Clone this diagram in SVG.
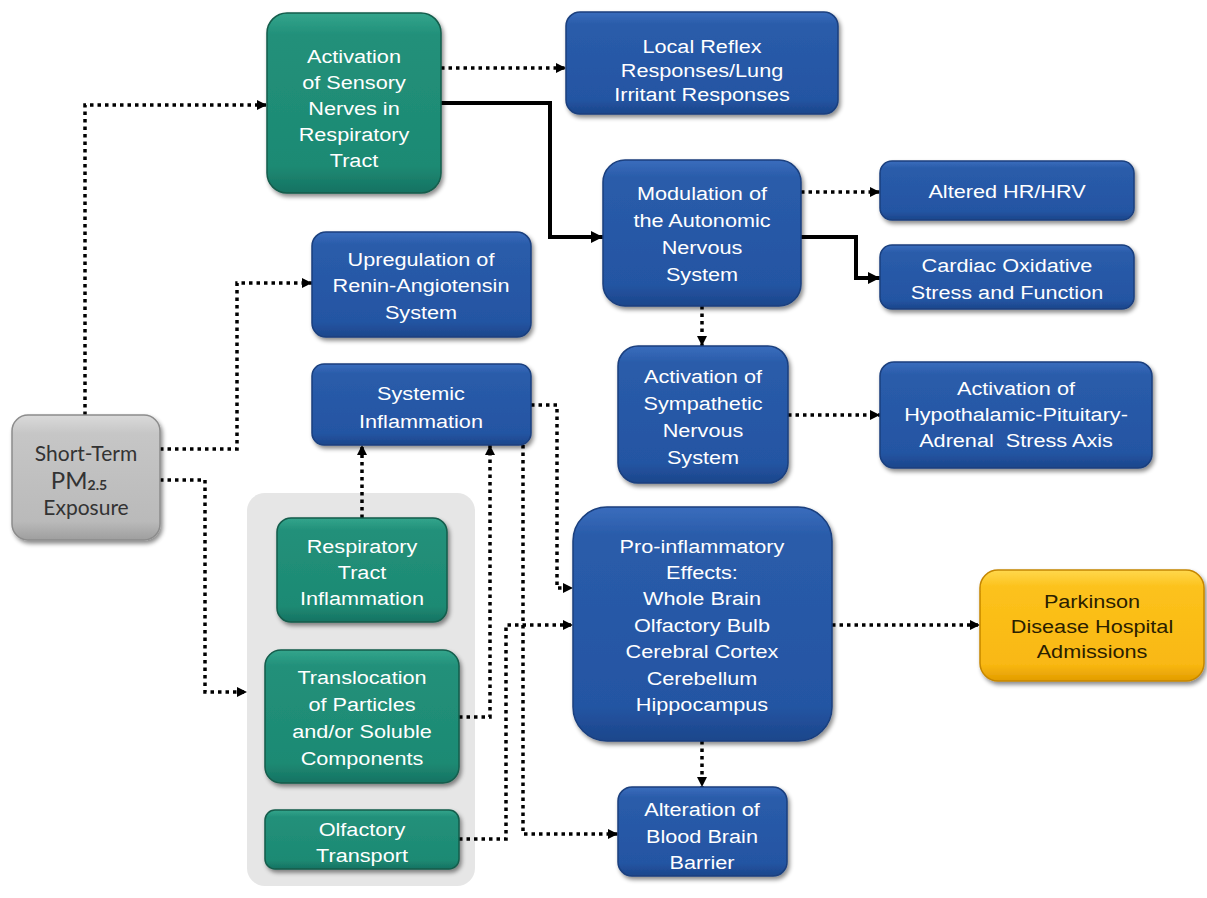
<svg xmlns="http://www.w3.org/2000/svg" width="1207" height="898" viewBox="0 0 1207 898">
<defs>
<linearGradient id="gBlue" x1="0" y1="0" x2="0" y2="1">
<stop offset="0" stop-color="#3a6dbd"/><stop offset="0.12" stop-color="#2a5caa"/><stop offset="0.85" stop-color="#2455a3"/><stop offset="1" stop-color="#1c468b"/>
</linearGradient>
<linearGradient id="gGreen" x1="0" y1="0" x2="0" y2="1">
<stop offset="0" stop-color="#33a58c"/><stop offset="0.12" stop-color="#22907a"/><stop offset="0.85" stop-color="#1d8a73"/><stop offset="1" stop-color="#167262"/>
</linearGradient>
<linearGradient id="gGray" x1="0" y1="0" x2="0" y2="1">
<stop offset="0" stop-color="#dadada"/><stop offset="0.15" stop-color="#c6c6c6"/><stop offset="0.85" stop-color="#bababa"/><stop offset="1" stop-color="#9e9e9e"/>
</linearGradient>
<linearGradient id="gYellow" x1="0" y1="0" x2="0" y2="1">
<stop offset="0" stop-color="#ffd84d"/><stop offset="0.15" stop-color="#fcc21c"/><stop offset="0.85" stop-color="#f9b812"/><stop offset="1" stop-color="#e29c00"/>
</linearGradient>
<filter id="sh" x="-10%" y="-10%" width="125%" height="130%">
<feDropShadow dx="2" dy="3" stdDeviation="2.2" flood-color="#000" flood-opacity="0.45"/>
</filter>
<marker id="ad" viewBox="0 0 10 10" refX="10" refY="5" markerWidth="11" markerHeight="10" markerUnits="userSpaceOnUse" orient="auto">
<path d="M0,0 L10,5 L0,10 z" fill="#000"/>
</marker>
<marker id="as" viewBox="0 0 10 10" refX="10" refY="5" markerWidth="13" markerHeight="12" markerUnits="userSpaceOnUse" orient="auto">
<path d="M0,0 L10,5 L0,10 z" fill="#000"/>
</marker>
<style>
.blue{fill:url(#gBlue);stroke:#1a3f7e;stroke-width:1.5;filter:url(#sh)}
.green{fill:url(#gGreen);stroke:#135c4b;stroke-width:1.5;filter:url(#sh)}
.gray{fill:url(#gGray);stroke:#8c8c8c;stroke-width:1.5;filter:url(#sh)}
.yellow{fill:url(#gYellow);stroke:#c58600;stroke-width:1.5;filter:url(#sh)}
.t{font-family:"Liberation Sans",Arial,sans-serif;font-size:19px;fill:#fff;text-anchor:middle}
.ty{font-family:"Liberation Sans",Arial,sans-serif;font-size:19px;fill:#2a2000;text-anchor:middle}
.tp{font-family:Lato,"Noto Sans",sans-serif;font-size:21px;fill:#333;text-anchor:middle}
.dot{fill:none;stroke:#000;stroke-width:3.5;stroke-dasharray:3.5 4;marker-end:url(#ad)}
.sol{fill:none;stroke:#000;stroke-width:4;marker-end:url(#as)}
</style>
</defs>

<rect id="group-bg" x="247" y="493" width="228" height="393" rx="18" fill="#e6e6e6"/>

<g id="connectors">
<path class="dot" d="M85,415 V105 H267"/>
<path class="dot" d="M160,449 H237 V283 H312"/>
<path class="dot" d="M160,480 H205 V692 H247"/>
<path class="dot" d="M441,68 H566"/>
<path class="sol" d="M441,103 H550 V237 H603"/>
<path class="dot" d="M801,192 H880"/>
<path class="sol" d="M801,237 H856 V278 H880"/>
<path class="dot" d="M702,306 V346"/>
<path class="dot" d="M788,415 H880"/>
<path class="dot" d="M362,518 V445"/>
<path class="dot" d="M459,717 H490 V445"/>
<path class="dot" d="M531,405 H557 V588 H573"/>
<path class="dot" d="M523,445 V834 H618"/>
<path class="dot" d="M459,839 H506 V625 H573"/>
<path class="dot" d="M832,625 H980"/>
<path class="dot" d="M702,741 V787"/>
</g>

<g id="n-pm">
<rect class="gray" x="12" y="415" width="148" height="125" rx="16"/>
<text class="tp"><tspan x="86" y="461">Short-Term</tspan><tspan x="79" y="489" font-size="24">PM</tspan><tspan font-size="14" font-weight="bold" dy="1">2.5</tspan><tspan x="86" y="515">Exposure</tspan></text>
</g>

<g id="n-sensory">
<rect class="green" x="267" y="13" width="174" height="180" rx="20"/>
<text class="t" transform="translate(354 0) scale(1.14 1)"><tspan x="0" y="63">Activation</tspan><tspan x="0" y="89">of Sensory</tspan><tspan x="0" y="115">Nerves in</tspan><tspan x="0" y="141">Respiratory</tspan><tspan x="0" y="167">Tract</tspan></text>
</g>

<g id="n-local">
<rect class="blue" x="566" y="12" width="272" height="102" rx="14"/>
<text class="t" transform="translate(702 0) scale(1.14 1)"><tspan x="0" y="53">Local Reflex</tspan><tspan x="0" y="77">Responses/Lung</tspan><tspan x="0" y="101">Irritant Responses</tspan></text>
</g>

<g id="n-modulation">
<rect class="blue" x="603" y="160" width="198" height="146" rx="22"/>
<text class="t" transform="translate(702 0) scale(1.14 1)"><tspan x="0" y="200">Modulation of</tspan><tspan x="0" y="227">the Autonomic</tspan><tspan x="0" y="254">Nervous</tspan><tspan x="0" y="281">System</tspan></text>
</g>

<g id="n-hr">
<rect class="blue" x="880" y="161" width="254" height="59" rx="12"/>
<text class="t" transform="translate(1007 0) scale(1.14 1)"><tspan x="0" y="198">Altered HR/HRV</tspan></text>
</g>

<g id="n-cardiac">
<rect class="blue" x="880" y="245" width="254" height="64" rx="12"/>
<text class="t" transform="translate(1007 0) scale(1.14 1)"><tspan x="0" y="272">Cardiac Oxidative</tspan><tspan x="0" y="299">Stress and Function</tspan></text>
</g>

<g id="n-renin">
<rect class="blue" x="312" y="232" width="219" height="105" rx="14"/>
<text class="t" transform="translate(421 0) scale(1.14 1)"><tspan x="0" y="266">Upregulation of</tspan><tspan x="0" y="292">Renin-Angiotensin</tspan><tspan x="0" y="319">System</tspan></text>
</g>

<g id="n-systemic">
<rect class="blue" x="312" y="364" width="219" height="81" rx="12"/>
<text class="t" transform="translate(421 0) scale(1.14 1)"><tspan x="0" y="400">Systemic</tspan><tspan x="0" y="428">Inflammation</tspan></text>
</g>

<g id="n-sympathetic">
<rect class="blue" x="618" y="346" width="170" height="137" rx="20"/>
<text class="t" transform="translate(703 0) scale(1.14 1)"><tspan x="0" y="383">Activation of</tspan><tspan x="0" y="410">Sympathetic</tspan><tspan x="0" y="437">Nervous</tspan><tspan x="0" y="464">System</tspan></text>
</g>

<g id="n-hpa">
<rect class="blue" x="880" y="362" width="272" height="106" rx="14"/>
<text class="t" transform="translate(1016 0) scale(1.14 1)"><tspan x="0" y="395">Activation of</tspan><tspan x="0" y="421">Hypothalamic-Pituitary-</tspan><tspan x="0" y="447" xml:space="preserve">Adrenal  Stress Axis</tspan></text>
</g>

<g id="n-resp">
<rect class="green" x="277" y="518" width="170" height="104" rx="14"/>
<text class="t" transform="translate(362 0) scale(1.14 1)"><tspan x="0" y="553">Respiratory</tspan><tspan x="0" y="579">Tract</tspan><tspan x="0" y="605">Inflammation</tspan></text>
</g>

<g id="n-transloc">
<rect class="green" x="265" y="650" width="194" height="133" rx="16"/>
<text class="t" transform="translate(362 0) scale(1.14 1)"><tspan x="0" y="684">Translocation</tspan><tspan x="0" y="711">of Particles</tspan><tspan x="0" y="738">and/or Soluble</tspan><tspan x="0" y="765">Components</tspan></text>
</g>

<g id="n-olfactory">
<rect class="green" x="265" y="810" width="194" height="59" rx="10"/>
<text class="t" transform="translate(362 0) scale(1.14 1)"><tspan x="0" y="836">Olfactory</tspan><tspan x="0" y="862">Transport</tspan></text>
</g>

<g id="n-proinflam">
<rect class="blue" x="573" y="507" width="259" height="234" rx="34"/>
<text class="t" transform="translate(702 0) scale(1.14 1)"><tspan x="0" y="553">Pro-inflammatory</tspan><tspan x="0" y="579">Effects:</tspan><tspan x="0" y="605">Whole Brain</tspan><tspan x="0" y="632">Olfactory Bulb</tspan><tspan x="0" y="658">Cerebral Cortex</tspan><tspan x="0" y="685">Cerebellum</tspan><tspan x="0" y="711">Hippocampus</tspan></text>
</g>

<g id="n-parkinson">
<rect class="yellow" x="980" y="570" width="224" height="111" rx="18"/>
<text class="ty" transform="translate(1092 0) scale(1.14 1)"><tspan x="0" y="608">Parkinson</tspan><tspan x="0" y="633">Disease Hospital</tspan><tspan x="0" y="658">Admissions</tspan></text>
</g>

<g id="n-bbb">
<rect class="blue" x="618" y="787" width="169" height="89" rx="14"/>
<text class="t" transform="translate(702 0) scale(1.14 1)"><tspan x="0" y="816">Alteration of</tspan><tspan x="0" y="843">Blood Brain</tspan><tspan x="0" y="869">Barrier</tspan></text>
</g>
</svg>
